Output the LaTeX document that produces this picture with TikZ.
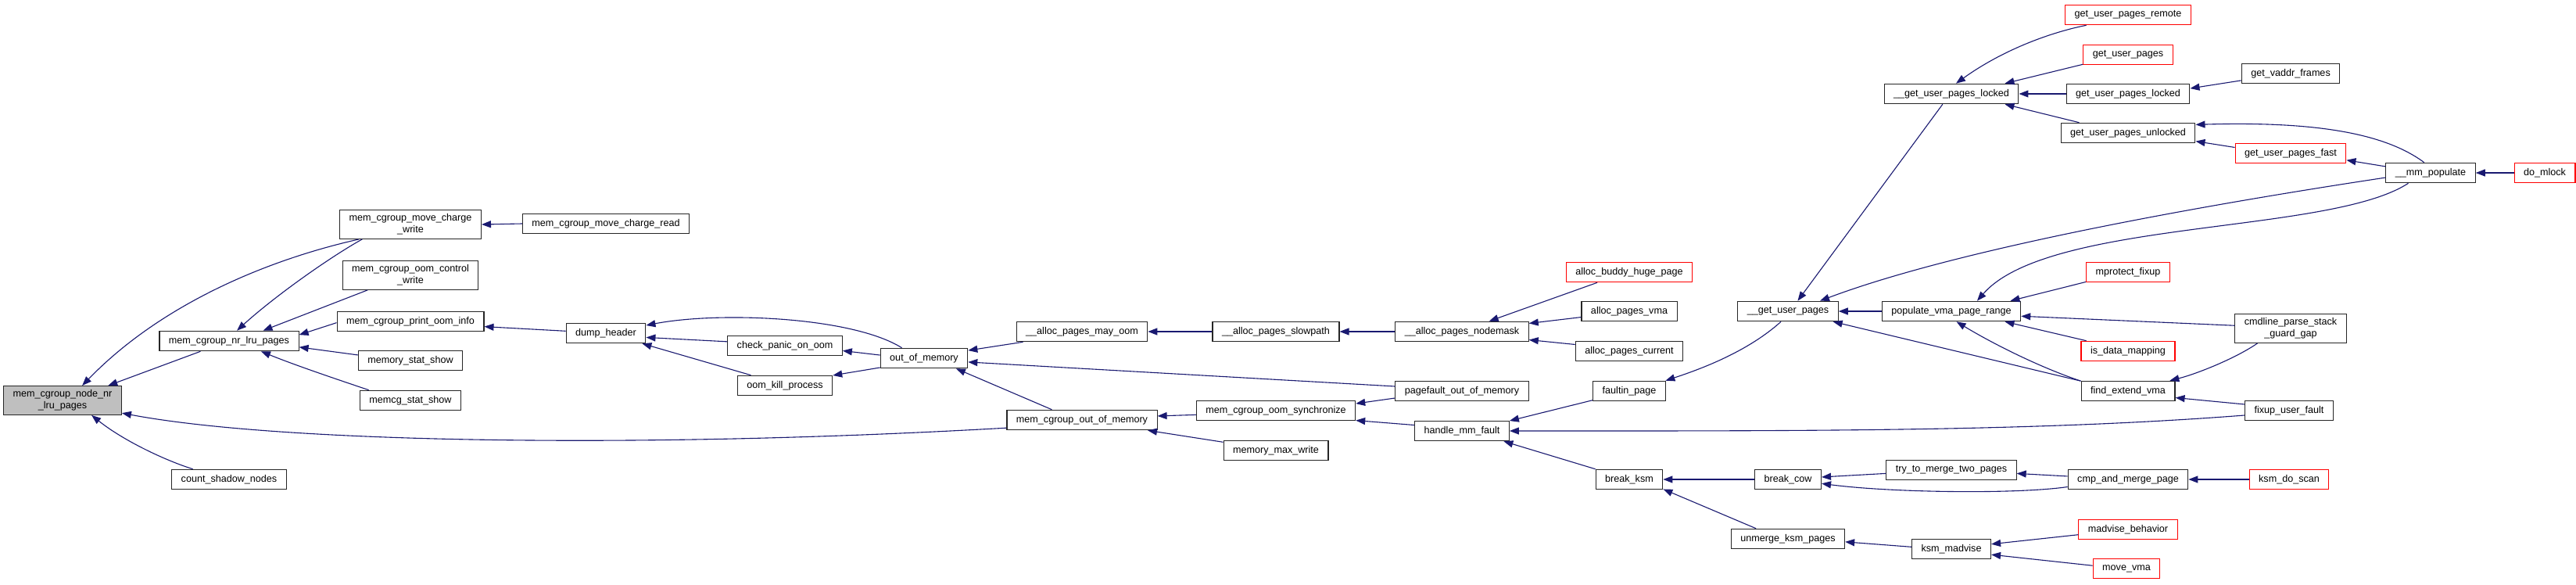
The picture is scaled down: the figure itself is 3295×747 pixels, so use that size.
\documentclass[tikz,border=0pt]{standalone}
\usepackage{fontspec}
\setmainfont{Liberation Sans}
\usetikzlibrary{arrows.meta}
\definecolor{edgeblue}{RGB}{25,25,112}
\definecolor{rootgray}{RGB}{191,191,191}
\tikzset{
  fn/.style={
    rectangle, draw=black!85, line width=1.1pt, fill=white,
    inner xsep=12pt, inner ysep=5pt, minimum height=25.5pt,
    align=center, font=\fontsize{12.6}{15}\selectfont
  },
  fnroot/.style={fn, fill=rootgray},
  fntrunc/.style={fn, draw=red},
  call/.style={draw=edgeblue, line width=1.1pt,
    -{Triangle[length=12pt,width=9pt]}},
}

\begin{document}
\begin{tikzpicture}[x=1pt,y=-1pt]
  \useasboundingbox (0,0) rectangle (3295,747);
  % functions, column by column
  \node[fnroot] (root) at (80,512) {mem\_cgroup\_node\_nr\\\_lru\_pages};
  \node[fn] (nrlru)   at (293,436) {mem\_cgroup\_nr\_lru\_pages};
  \node[fn] (cshadow) at (293,613) {count\_shadow\_nodes};
  \node[fn] (mvwrite)   at (525,287) {mem\_cgroup\_move\_charge\\\_write};
  \node[fn] (oomctl)    at (525,352) {mem\_cgroup\_oom\_control\\\_write};
  \node[fn] (printoom)  at (525,411) {mem\_cgroup\_print\_oom\_info};
  \node[fn] (memstat)   at (525,461) {memory\_stat\_show};
  \node[fn] (memcgstat) at (525,512) {memcg\_stat\_show};
  \node[fn] (mvread)  at (775,286) {mem\_cgroup\_move\_charge\_read};
  \node[fn] (dumphdr) at (775,426) {dump\_header};
  \node[fn] (panic)   at (1004,442) {check\_panic\_on\_oom};
  \node[fn] (oomkill) at (1004,493) {oom\_kill\_process};
  \node[fn] (oom)     at (1182,458) {out\_of\_memory};
  \node[fn] (mayoom)   at (1384,424) {\_\_alloc\_pages\_may\_oom};
  \node[fn] (memcgoom) at (1384,537) {mem\_cgroup\_out\_of\_memory};
  \node[fn] (slowpath) at (1632,424) {\_\_alloc\_pages\_slowpath};
  \node[fn] (oomsync)  at (1632,525) {mem\_cgroup\_oom\_synchronize};
  \node[fn] (maxwrite) at (1632,576) {memory\_max\_write};
  \node[fn] (nodemask) at (1870,424) {\_\_alloc\_pages\_nodemask};
  \node[fn] (pfoom)    at (1870,500) {pagefault\_out\_of\_memory};
  \node[fn] (hmmfault) at (1870,551) {handle\_mm\_fault};
  \node[fntrunc] (buddy) at (2084,348) {alloc\_buddy\_huge\_page};
  \node[fn] (pvma)     at (2084,398) {alloc\_pages\_vma};
  \node[fn] (pcurrent) at (2084,449) {alloc\_pages\_current};
  \node[fn] (faultin)  at (2084,500) {faultin\_page};
  \node[fn] (breakksm) at (2084,613) {break\_ksm};
  \node[fn] (gup)      at (2287,398) {\_\_get\_user\_pages};
  \node[fn] (breakcow) at (2287,613) {break\_cow};
  \node[fn] (unmerge)  at (2287,689) {unmerge\_ksm\_pages};
  \node[fn] (gupl)     at (2496,120) {\_\_get\_user\_pages\_locked};
  \node[fn] (pvpr)     at (2496,398) {populate\_vma\_page\_range};
  \node[fn] (trymerge) at (2496,601) {try\_to\_merge\_two\_pages};
  \node[fn] (ksmmadv)  at (2496,702) {ksm\_madvise};
  \node[fntrunc] (gupremote) at (2722,19) {get\_user\_pages\_remote};
  \node[fntrunc] (guppages)  at (2722,70) {get\_user\_pages};
  \node[fn] (guplocked)   at (2722,120) {get\_user\_pages\_locked};
  \node[fn] (gupunlocked) at (2722,170) {get\_user\_pages\_unlocked};
  \node[fntrunc] (mprotect) at (2722,348) {mprotect\_fixup};
  \node[fntrunc] (isdata)   at (2722,449) {is\_data\_mapping};
  \node[fn] (findvma)  at (2722,500) {find\_extend\_vma};
  \node[fn] (cmpmerge) at (2722,613) {cmp\_and\_merge\_page};
  \node[fntrunc] (madvbeh) at (2722,677) {madvise\_behavior};
  \node[fntrunc] (movevma) at (2720,727) {move\_vma};
  \node[fn] (vaddr)   at (2930,94) {get\_vaddr\_frames};
  \node[fntrunc] (gupfast) at (2930,196) {get\_user\_pages\_fast};
  \node[fn] (cmdline) at (2930,420) {cmdline\_parse\_stack\\\_guard\_gap};
  \node[fn] (fixup)   at (2928,525) {fixup\_user\_fault};
  \node[fntrunc] (ksmscan) at (2928,613) {ksm\_do\_scan};
  \node[fn] (mmpop)   at (3109,221) {\_\_mm\_populate};
  \node[fntrunc] (domlock) at (3255,221) {do\_mlock};

  % callers point back to callees
  \draw[call] (nrlru.200) -- (root.18);
  \draw[call] (mvwrite.196) .. controls (330,335) and (200,395) .. (root.37);
  \draw[call] (memcgoom.186) .. controls (800,575) and (350,565) .. (root.348);
  \draw[call] (cshadow.164) .. controls (215,590) and (160,565) .. (root.333);
  \draw[call] (mvwrite.197) .. controls (420,330) and (350,380) .. (nrlru.53);
  \draw[call] (oomctl.199) -- (nrlru.17);
  \draw[call] (printoom.181) -- (nrlru.5);
  \draw[call] (memstat.174) -- (nrlru.355);
  \draw[call] (memcgstat.166) .. controls (440,488) and (380,468) .. (nrlru.342);
  \draw[call] (mvread.west) -- (mvwrite.east);
  \draw[call] (dumphdr.177) -- (printoom.356);
  \draw[call] (oom.155) .. controls (1090,405) and (920,398) .. (dumphdr.11);
  \draw[call] (panic.176) -- (dumphdr.354);
  \draw[call] (oomkill.163) -- (dumphdr.344);
  \draw[call] (oom.176) -- (panic.355);
  \draw[call] (oom.192) -- (oomkill.12);
  \draw[call] (mayoom.190) -- (oom.10);
  \draw[call] (pfoom.176) -- (oom.355);
  \draw[call] (memcgoom.161) -- (oom.342);
  \draw[call] (slowpath.west) -- (mayoom.east);
  \draw[call] (nodemask.west) -- (slowpath.east);
  \draw[call] (oomsync.183) -- (memcgoom.3);
  \draw[call] (maxwrite.171) -- (memcgoom.351);
  \draw[call] (pfoom.186) -- (oomsync.5);
  \draw[call] (hmmfault.173) -- (oomsync.353);
  \draw[call] (buddy.198) -- (nodemask.21);
  \draw[call] (pvma.187) -- (nodemask.7);
  \draw[call] (pcurrent.173) -- (nodemask.353);
  \draw[call] (faultin.194) -- (hmmfault.12);
  \draw[call] (fixup.186) .. controls (2600,552) and (2300,551) .. (hmmfault.east);
  \draw[call] (breakksm.163) -- (hmmfault.346);
  \draw[call] (gup.236) .. controls (2235,450) and (2175,472) .. (faultin.16);
  \draw[call] (gupl.230) -- (gup.47);
  \draw[call] (pvpr.west) -- (gup.east);
  \draw[call] (mmpop.186) .. controls (2800,265) and (2500,320) .. (gup.18);
  \draw[call] (findvma.168) -- (gup.347);
  \draw[call] (gupremote.194) .. controls (2620,42) and (2560,65) .. (gupl.66);
  \draw[call] (guppages.192) -- (gupl.11);
  \draw[call] (guplocked.west) -- (gupl.east);
  \draw[call] (gupunlocked.168) -- (gupl.349);
  \draw[call] (vaddr.188) -- (guplocked.5);
  \draw[call] (mmpop.122) .. controls (3050,170) and (2960,155) .. (gupunlocked.7);
  \draw[call] (gupfast.174) -- (gupunlocked.353);
  \draw[call] (mmpop.172) -- (gupfast.353);
  \draw[call] (domlock.west) -- (mmpop.east);
  \draw[call] (mmpop.205) .. controls (2980,300) and (2620,280) .. (pvpr.22);
  \draw[call] (mprotect.193) -- (pvpr.10);
  \draw[call] (cmdline.177) -- (pvpr.356);
  \draw[call] (isdata.166) -- (pvpr.349);
  \draw[call] (findvma.168) .. controls (2610,470) and (2550,440) .. (pvpr.296);
  \draw[call] (cmdline.204) .. controls (2860,458) and (2810,478) .. (findvma.14);
  \draw[call] (fixup.172) -- (findvma.352);
  \draw[call] (breakcow.west) -- (breakksm.east);
  \draw[call] (unmerge.162) -- (breakksm.344);
  \draw[call] (trymerge.183) -- (breakcow.4);
  \draw[call] (cmpmerge.187) .. controls (2580,632) and (2420,630) .. (breakcow.353);
  \draw[call] (cmpmerge.177) -- (trymerge.357);
  \draw[call] (ksmscan.west) -- (cmpmerge.east);
  \draw[call] (ksmmadv.177) -- (unmerge.357);
  \draw[call] (madvbeh.186) -- (ksmmadv.7);
  \draw[call] (movevma.175) -- (ksmmadv.352);
\end{tikzpicture}
\end{document}
